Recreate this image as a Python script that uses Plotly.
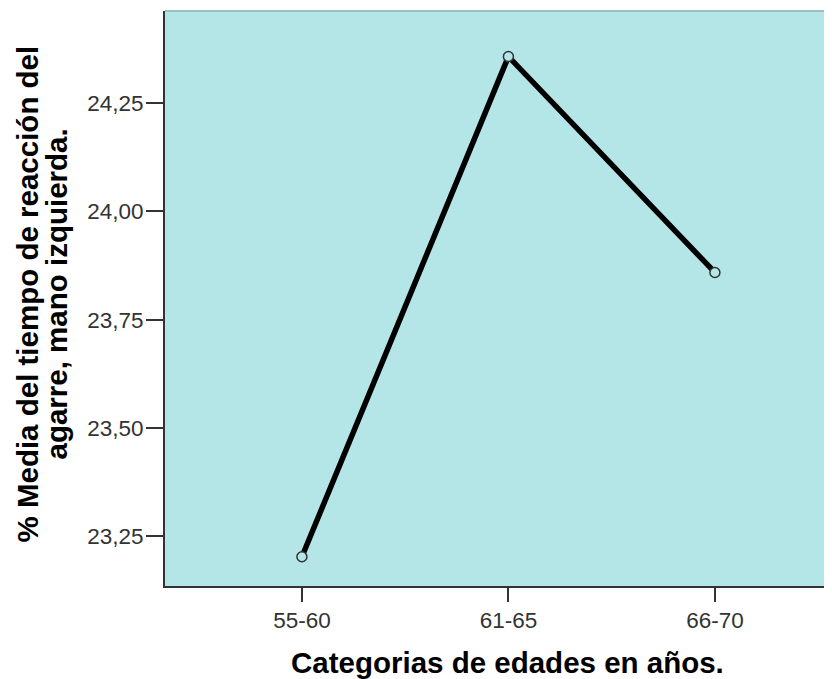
import plotly.graph_objects as go

categories = ["55-60", "61-65", "66-70"]
values = [23.202, 24.358, 23.859]
y_ticks = [23.25, 23.50, 23.75, 24.00, 24.25]
x_title = "Categorias de edades en años."
y_title_lines = ["% Media del tiempo de reacción del", "agarre, mano izquierda."]

bg = "#b4e5e7"
font_family = "Liberation Sans, Arial, sans-serif"
title_font = dict(size=29.5, color="black", family=font_family, weight="bold")

fig = go.Figure()
fig.add_trace(go.Scatter(
    x=[0, 1, 2], y=values, mode="lines+markers",
    line=dict(color="black", width=5.5),
    marker=dict(size=10, color=bg, line=dict(color="#333333", width=1.5)),
    showlegend=False, hoverinfo="skip",
))

fig.update_layout(
    width=824, height=671,
    margin=dict(l=157, r=0, t=3, b=93),
    paper_bgcolor="white", plot_bgcolor=bg,
    separators=",.",
    font=dict(family=font_family, color="#222222"),
    xaxis=dict(
        range=[-0.663, 2.567], tickmode="array", tickvals=[0, 1, 2], ticktext=categories,
        showgrid=False, zeroline=False, showline=True, linecolor="#333333", linewidth=2,
        ticks="outside", ticklen=14, tickwidth=2, tickcolor="#333333",
        tickfont=dict(size=22.5, color="#333333"), ticklabelstandoff=-1,
    ),
    yaxis=dict(
        range=[23.1344, 24.4633], tickmode="array", tickvals=y_ticks, tickformat=".2f",
        showgrid=False, zeroline=False, showline=True, linecolor="#333333", linewidth=2,
        ticks="outside", ticklen=17, tickwidth=2, tickcolor="#333333",
        tickfont=dict(size=22.5, color="#333333"), ticklabelstandoff=-2,
    ),
    shapes=[dict(type="line", xref="paper", yref="paper", x0=0, x1=1, y0=1, y1=1,
                 line=dict(color="#95c3c6", width=2))],
    annotations=[
        dict(text=x_title, xref="paper", yref="paper", x=0.5142, y=0,
             xanchor="center", yanchor="middle", yshift=-76, showarrow=False, font=title_font),
        dict(text=y_title_lines[0], xref="paper", yref="paper", x=0, y=0.5,
             xanchor="center", yanchor="middle", xshift=-138, yshift=4, textangle=-90,
             showarrow=False, font=title_font),
        dict(text=y_title_lines[1], xref="paper", yref="paper", x=0, y=0.5,
             xanchor="center", yanchor="middle", xshift=-109, yshift=4, textangle=-90,
             showarrow=False, font=title_font),
    ],
)

fig.write_html("out.html")
